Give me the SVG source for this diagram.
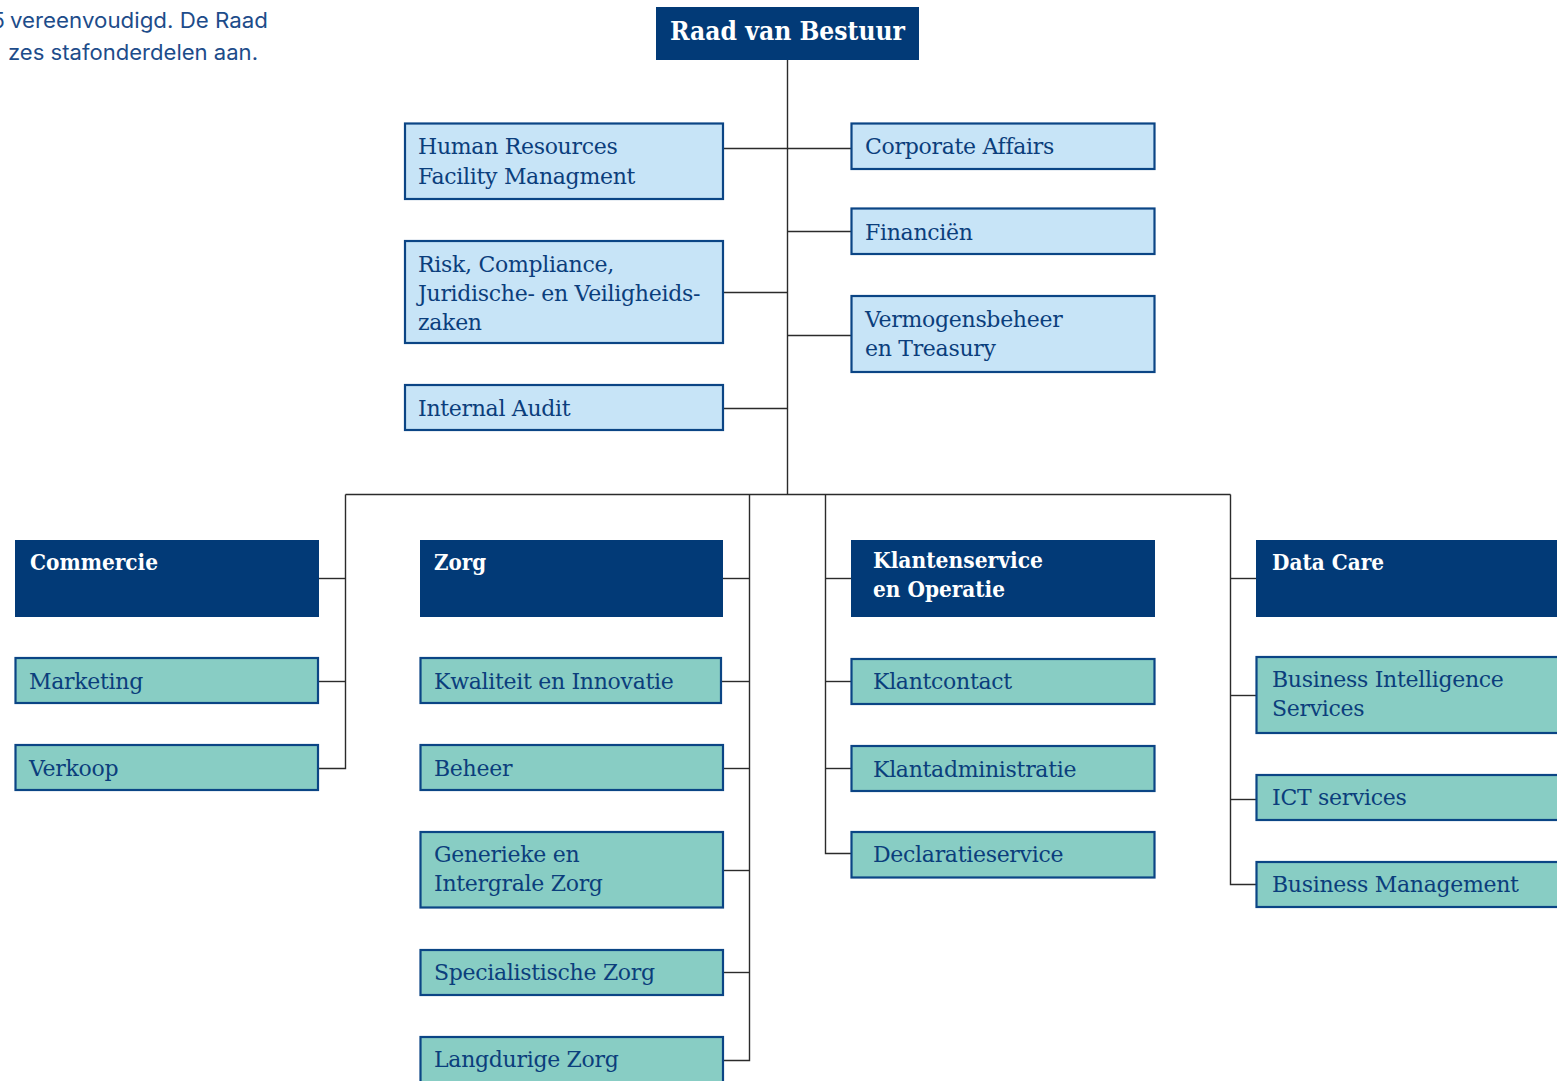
<svg xmlns="http://www.w3.org/2000/svg" width="1557" height="1081" viewBox="0 0 1557 1081">
  <style>
    .intro { font-family: Inter, "Open Sans", sans-serif; font-size: 21px; fill: #1d4c8a; }
    .lbl { font-family: "DejaVu Serif", "Liberation Serif", serif; font-size: 22px; letter-spacing: -0.3px; fill: #0b3e7c; }
    .ttl { font-family: "DejaVu Serif", "Liberation Serif", serif; font-size: 22px; font-weight: bold; fill: #ffffff; }
    .staff { fill: #c7e4f7; stroke: #0b4585; stroke-width: 2.2; }
    .unit { fill: #88cdc4; stroke: #0b4585; stroke-width: 2.2; }
    .div { fill: #023a77; }
    .wire { fill: none; stroke: #2b2b2b; stroke-width: 1.4; }
  </style>

  <!-- intro text, running in from the left margin -->
  <text class="intro" x="-8" y="28">5</text>
  <text class="intro" x="10" y="28" textLength="258" lengthAdjust="spacingAndGlyphs">vereenvoudigd. De Raad</text>
  <text class="intro" x="8" y="60" textLength="250" lengthAdjust="spacingAndGlyphs">zes stafonderdelen aan.</text>

  <!-- connectors -->
  <g id="connectors" class="wire">
    <path d="M787.5 60 V494"/>
    <path d="M723 148.5 H851"/>
    <path d="M787.5 231.5 H851"/>
    <path d="M723 292.5 H787.5"/>
    <path d="M787.5 335.5 H851"/>
    <path d="M723 408.5 H787.5"/>
    <path d="M345.5 494.5 H1230.5"/>
    <!-- Commercie -->
    <path d="M345.5 494.5 V768.5 H318"/>
    <path d="M319 578.5 H345.5"/>
    <path d="M318 681.5 H345.5"/>
    <!-- Zorg -->
    <path d="M749.5 494.5 V1060.5 H723"/>
    <path d="M723 578.5 H749.5"/>
    <path d="M721 681.5 H749.5"/>
    <path d="M723 768.5 H749.5"/>
    <path d="M723 870.5 H749.5"/>
    <path d="M723 972.5 H749.5"/>
    <!-- Klantenservice en Operatie -->
    <path d="M825.5 494.5 V853.5 H851"/>
    <path d="M825.5 578.5 H851"/>
    <path d="M825.5 681.5 H851"/>
    <path d="M825.5 768.5 H851"/>
    <!-- Data Care -->
    <path d="M1230.5 494.5 V884.5 H1256"/>
    <path d="M1230.5 578.5 H1256"/>
    <path d="M1230.5 695.5 H1256"/>
    <path d="M1230.5 799.5 H1256"/>
  </g>

  <!-- board -->
  <g id="raad-van-bestuur">
    <rect class="div" x="656" y="7" width="263" height="53"/>
    <text class="ttl" x="787.5" y="40" text-anchor="middle" style="font-size:26px" textLength="235" lengthAdjust="spacingAndGlyphs">Raad van Bestuur</text>
  </g>

  <!-- staff departments -->
  <g id="hr-facility">
    <rect class="staff" x="405" y="123.5" width="318" height="75.5"/>
    <text class="lbl" x="418" y="154">Human Resources</text>
    <text class="lbl" x="418" y="184">Facility Managment</text>
  </g>
  <g id="risk-compliance">
    <rect class="staff" x="405" y="241" width="318" height="102"/>
    <text class="lbl" x="418" y="272">Risk, Compliance,</text>
    <text class="lbl" x="418" y="301">Juridische- en Veiligheids-</text>
    <text class="lbl" x="418" y="330">zaken</text>
  </g>
  <g id="internal-audit">
    <rect class="staff" x="405" y="385" width="318" height="45"/>
    <text class="lbl" x="418" y="416">Internal Audit</text>
  </g>
  <g id="corporate-affairs">
    <rect class="staff" x="851.5" y="123.5" width="303" height="45.5"/>
    <text class="lbl" x="865" y="154">Corporate Affairs</text>
  </g>
  <g id="financien">
    <rect class="staff" x="851.5" y="208.5" width="303" height="45.5"/>
    <text class="lbl" x="865" y="240">Financiën</text>
  </g>
  <g id="vermogensbeheer">
    <rect class="staff" x="851.5" y="296" width="303" height="76"/>
    <text class="lbl" x="865" y="327">Vermogensbeheer</text>
    <text class="lbl" x="865" y="356">en Treasury</text>
  </g>

  <!-- divisions -->
  <g id="commercie">
    <rect class="div" x="15" y="540" width="304" height="77"/>
    <text class="ttl" x="30" y="570" textLength="128" lengthAdjust="spacingAndGlyphs">Commercie</text>
  </g>
  <g id="zorg">
    <rect class="div" x="420" y="540" width="303" height="77"/>
    <text class="ttl" x="434" y="570" textLength="52" lengthAdjust="spacingAndGlyphs">Zorg</text>
  </g>
  <g id="klantenservice">
    <rect class="div" x="851" y="540" width="304" height="77"/>
    <text class="ttl" x="873" y="568" textLength="170" lengthAdjust="spacingAndGlyphs">Klantenservice</text>
    <text class="ttl" x="873" y="597" textLength="132" lengthAdjust="spacingAndGlyphs">en Operatie</text>
  </g>
  <g id="data-care">
    <rect class="div" x="1256" y="540" width="310" height="77"/>
    <text class="ttl" x="1272" y="570" textLength="112" lengthAdjust="spacingAndGlyphs">Data Care</text>
  </g>

  <!-- Commercie units -->
  <g id="marketing">
    <rect class="unit" x="15.5" y="658" width="302.5" height="45"/>
    <text class="lbl" x="29" y="689">Marketing</text>
  </g>
  <g id="verkoop">
    <rect class="unit" x="15.5" y="745" width="302.5" height="45"/>
    <text class="lbl" x="29" y="776">Verkoop</text>
  </g>

  <!-- Zorg units -->
  <g id="kwaliteit-innovatie">
    <rect class="unit" x="420.5" y="658" width="300.5" height="45"/>
    <text class="lbl" x="434" y="689">Kwaliteit en Innovatie</text>
  </g>
  <g id="beheer">
    <rect class="unit" x="420.5" y="745" width="302.5" height="45"/>
    <text class="lbl" x="434" y="776">Beheer</text>
  </g>
  <g id="generieke-zorg">
    <rect class="unit" x="420.5" y="832" width="302.5" height="75.5"/>
    <text class="lbl" x="434" y="862">Generieke en</text>
    <text class="lbl" x="434" y="891">Intergrale Zorg</text>
  </g>
  <g id="specialistische-zorg">
    <rect class="unit" x="420.5" y="950" width="302.5" height="45"/>
    <text class="lbl" x="434" y="980">Specialistische Zorg</text>
  </g>
  <g id="langdurige-zorg">
    <rect class="unit" x="420.5" y="1037" width="302.5" height="60"/>
    <text class="lbl" x="434" y="1067">Langdurige Zorg</text>
  </g>

  <!-- Klantenservice units -->
  <g id="klantcontact">
    <rect class="unit" x="851.5" y="659" width="303" height="45"/>
    <text class="lbl" x="873" y="689">Klantcontact</text>
  </g>
  <g id="klantadministratie">
    <rect class="unit" x="851.5" y="746" width="303" height="45"/>
    <text class="lbl" x="873" y="777">Klantadministratie</text>
  </g>
  <g id="declaratieservice">
    <rect class="unit" x="851.5" y="832" width="303" height="45.5"/>
    <text class="lbl" x="873" y="862">Declaratieservice</text>
  </g>

  <!-- Data Care units -->
  <g id="business-intelligence">
    <rect class="unit" x="1256.5" y="657" width="310" height="76"/>
    <text class="lbl" x="1272" y="687">Business Intelligence</text>
    <text class="lbl" x="1272" y="716">Services</text>
  </g>
  <g id="ict-services">
    <rect class="unit" x="1256.5" y="775" width="310" height="45"/>
    <text class="lbl" x="1272" y="805">ICT services</text>
  </g>
  <g id="business-management">
    <rect class="unit" x="1256.5" y="862" width="310" height="45"/>
    <text class="lbl" x="1272" y="892">Business Management</text>
  </g>
</svg>
